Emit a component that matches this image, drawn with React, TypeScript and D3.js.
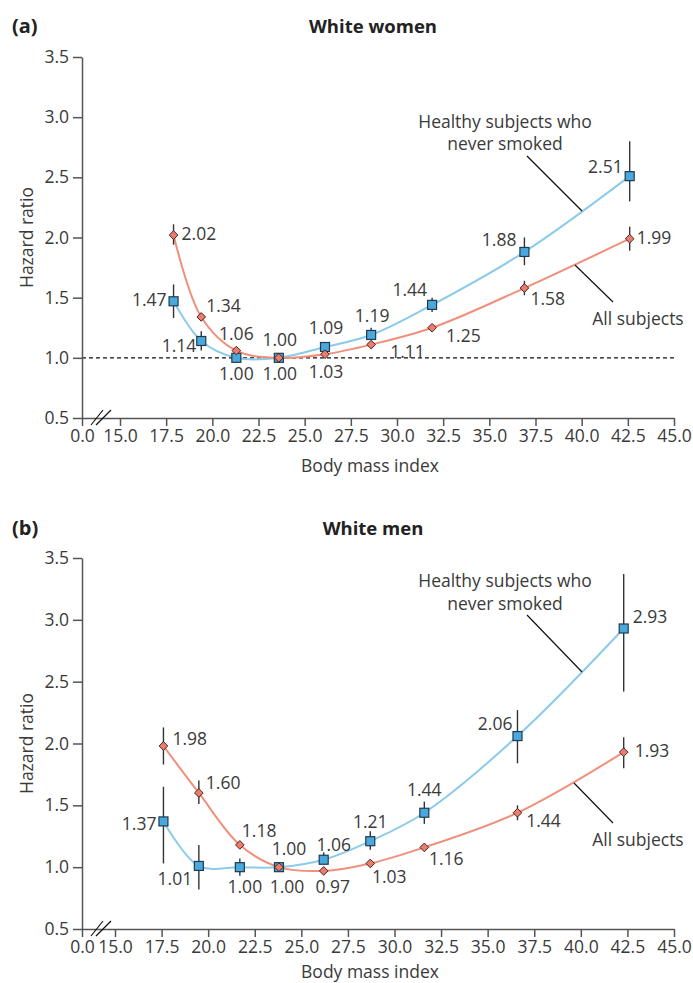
import { useEffect, useRef } from "react";
import * as d3 from "d3";

// ---- data ----
const xTicks = [0, 15, 17.5, 20, 22.5, 25, 27.5, 30, 32.5, 35, 37.5, 40, 42.5, 45];
const yTicks = [0.5, 1.0, 1.5, 2.0, 2.5, 3.0, 3.5];

const womenBmi = [17.9, 19.4, 21.3, 23.6, 26.1, 28.6, 31.9, 36.9, 42.6];
const womenAll = [2.02, 1.34, 1.06, 1.0, 1.03, 1.11, 1.25, 1.58, 1.99];
const womenAllLo = [1.94, 1.31, 1.04, 1.0, 1.01, 1.09, 1.23, 1.52, 1.89];
const womenAllHi = [2.11, 1.37, 1.08, 1.0, 1.05, 1.13, 1.27, 1.64, 2.09];
const womenHealthy = [1.47, 1.14, 1.0, 1.0, 1.09, 1.19, 1.44, 1.88, 2.51];
const womenHealthyLo = [1.33, 1.06, 0.97, 1.0, 1.06, 1.16, 1.38, 1.77, 2.3];
const womenHealthyHi = [1.61, 1.22, 1.03, 1.0, 1.12, 1.25, 1.5, 2.0, 2.8];

const menBmi = [17.6, 19.5, 21.7, 23.8, 26.2, 28.7, 31.6, 36.6, 42.3];
const menAll = [1.98, 1.6, 1.18, 1.0, 0.97, 1.03, 1.16, 1.44, 1.93];
const menAllLo = [1.83, 1.51, 1.16, 1.0, 0.95, 1.01, 1.14, 1.38, 1.8];
const menAllHi = [2.13, 1.7, 1.2, 1.0, 0.99, 1.05, 1.18, 1.5, 2.05];
const menHealthy = [1.37, 1.01, 1.0, 1.0, 1.06, 1.21, 1.44, 2.06, 2.93];
const menHealthyLo = [1.03, 0.82, 0.93, 1.0, 1.02, 1.14, 1.35, 1.84, 2.42];
const menHealthyHi = [1.65, 1.18, 1.07, 1.0, 1.12, 1.29, 1.53, 2.27, 3.37];

// label placement relative to each marker: [dx, dy, anchor]
type Off = [number, number, string];
const womenAllLabels: Off[] = [
  [8, -2, "start"], [5, -12, "start"], [0, -18, "middle"], [1, -19, "middle"], [1, 17, "middle"],
  [19, 6, "start"], [14, 7, "start"], [6, 10, "start"], [7, -2, "start"],
];
const womenHealthyLabels: Off[] = [
  [-7, -2, "end"], [-5, 4, "end"], [0, 15, "middle"], [1, 15, "middle"], [1, -20, "middle"],
  [1, -20, "middle"], [-5, -16, "end"], [-8, -13, "end"], [-7, -10, "end"],
];
const menAllLabels: Off[] = [
  [9, -8, "start"], [7, -11, "start"], [2, -15, "start"], [10, -19, "middle"], [9, 15, "middle"],
  [19, 13, "middle"], [22, 11, "middle"], [26, 7, "middle"], [11, -2, "start"],
];
const menHealthyLabels: Off[] = [
  [-7, 2, "end"], [-24, 12, "middle"], [5, 19, "middle"], [8, 19, "middle"], [10, -16, "middle"],
  [0, -20, "middle"], [0, -24, "middle"], [-5, -13, "end"], [9, -12, "start"],
];

const FONT = "'Open Sans', 'DejaVu Sans', sans-serif";
const TEXT = "#3a3a3a";
const BLUE_LINE = "#8ccbea";
const BLUE_FILL = "#4ba8db";
const RED_LINE = "#f0907c";
const RED_FILL = "#ea7d6c";
const FS = 17.5;

const fmt = d3.format(".2f");

const Panel = ({ top, letter, title, bmi, all, allLo, allHi, healthy, hLo, hHi, allLab, hLab, x15, yTop, yBottom, dashed, healthyY, allY, xTitleY }) => {
  const xAxisRef = useRef(null);
  const yAxisRef = useRef(null);

  const left = 82;
  const right = 674;
  const x = d3.scaleLinear().domain([0, 15, 45]).range([left, x15, right]);
  const y = d3.scaleLinear().domain([0.5, 3.5]).range([yBottom, yTop]);

  const line = d3
    .line<number>()
    .x((_, i) => x(bmi[i]))
    .y((d) => y(d))
    .curve(d3.curveCatmullRom.alpha(0.5));

  useEffect(() => {
    const xa = d3.select(xAxisRef.current)
      .call(d3.axisBottom(x).tickValues(xTicks).tickFormat(d3.format(".1f")).tickSize(8).tickSizeOuter(0).tickPadding(4));
    const ya = d3.select(yAxisRef.current)
      .call(d3.axisLeft(y).tickValues(yTicks).tickFormat(d3.format(".1f")).tickSize(9).tickSizeOuter(0).tickPadding(4));
    [xa, ya].forEach((a) => {
      a.selectAll("path, line").attr("stroke", "#555").attr("stroke-width", 1.5);
      a.selectAll("text").attr("font-size", FS).attr("font-family", FONT).attr("fill", TEXT);
    });
  }, []);

  const diamond = d3.symbol(d3.symbolDiamond2, 48)();

  return (
    <g>
      <text x={12} y={top + 25} fontFamily={FONT} fontWeight="bold" fontSize={20} fill="#222" dominantBaseline="central">
        {letter}
      </text>
      <text x={373} y={top + 25} fontFamily={FONT} fontWeight="bold" fontSize={18.5} fill="#222" textAnchor="middle" dominantBaseline="central">
        {title}
      </text>

      {dashed && (
        <line x1={left} x2={right} y1={y(1)} y2={y(1)} stroke="#111" strokeWidth={1.1} strokeDasharray="4,3" />
      )}

      <g ref={yAxisRef} transform={`translate(${left},0)`} />
      <g ref={xAxisRef} transform={`translate(0,${yBottom})`} />

      {/* axis break */}
      <line x1={91} y1={yBottom + 7} x2={103} y2={yBottom - 8} stroke="#111" strokeWidth={1.2} />
      <line x1={96} y1={yBottom + 7} x2={111} y2={yBottom - 8} stroke="#111" strokeWidth={1.2} />

      <text
        transform={`translate(26,${(yTop + yBottom) / 2}) rotate(-90)`}
        textAnchor="middle"
        dominantBaseline="central"
        fontFamily={FONT}
        fontSize={FS}
        fill={TEXT}
      >
        Hazard ratio
      </text>
      <text x={370} y={xTitleY} textAnchor="middle" dominantBaseline="central" fontFamily={FONT} fontSize={FS} fill={TEXT}>
        Body mass index
      </text>

      {/* curves */}
      <path d={line(healthy)} fill="none" stroke={BLUE_LINE} strokeWidth={2} />
      <path d={line(all)} fill="none" stroke={RED_LINE} strokeWidth={2} />

      {/* error bars */}
      {bmi.map((b, i) => (
        <g key={"e" + i} stroke="#333" strokeWidth={1.4}>
          {hHi[i] > hLo[i] && <line x1={x(b)} x2={x(b)} y1={y(hLo[i])} y2={y(hHi[i])} />}
          {allHi[i] > allLo[i] && <line x1={x(b)} x2={x(b)} y1={y(allLo[i])} y2={y(allHi[i])} />}
        </g>
      ))}

      {/* markers */}
      {bmi.map((b, i) => (
        <rect key={"s" + i} x={x(b) - 4.5} y={y(healthy[i]) - 4.5} width={9} height={9} fill={BLUE_FILL} stroke="#1e3b52" strokeWidth={1.2} />
      ))}
      {bmi.map((b, i) => (
        <path key={"d" + i} d={diamond} transform={`translate(${x(b)},${y(all[i])})`} fill={RED_FILL} stroke="#4a2520" strokeWidth={1} />
      ))}

      {/* value labels */}
      <g fontFamily={FONT} fontSize={FS} fill={TEXT} dominantBaseline="central">
        {bmi.map((b, i) => (
          <text key={"lh" + i} x={x(b) + hLab[i][0]} y={y(healthy[i]) + hLab[i][1]} textAnchor={hLab[i][2]}>
            {fmt(healthy[i])}
          </text>
        ))}
        {bmi.map((b, i) => (
          <text key={"la" + i} x={x(b) + allLab[i][0]} y={y(all[i]) + allLab[i][1]} textAnchor={allLab[i][2]}>
            {fmt(all[i])}
          </text>
        ))}
      </g>

      {/* series annotations */}
      <g fontFamily={FONT} fontSize={FS} fill={TEXT} textAnchor="middle" dominantBaseline="central">
        <text x={505} y={healthyY}>Healthy subjects who</text>
        <text x={505} y={healthyY + 22.7}>never smoked</text>
        <text x={638} y={allY}>All subjects</text>
      </g>
    </g>
  );
};

export default function App() {
  return (
    <svg width={693} height={983} style={{ position: "absolute", left: 0, top: 0, background: "#fff" }}>
      <Panel
        top={0}
        letter="(a)"
        title="White women"
        bmi={womenBmi}
        all={womenAll}
        allLo={womenAllLo}
        allHi={womenAllHi}
        healthy={womenHealthy}
        hLo={womenHealthyLo}
        hHi={womenHealthyHi}
        allLab={womenAllLabels}
        hLab={womenHealthyLabels}
        x15={120}
        yTop={57}
        yBottom={418}
        dashed
        healthyY={120.7}
        allY={318.3}
        xTitleY={465}
      />
      <Panel
        top={502}
        letter="(b)"
        title="White men"
        bmi={menBmi}
        all={menAll}
        allLo={menAllLo}
        allHi={menAllHi}
        healthy={menHealthy}
        hLo={menHealthyLo}
        hHi={menHealthyHi}
        allLab={menAllLabels}
        hLab={menHealthyLabels}
        x15={115}
        yTop={558}
        yBottom={929}
        dashed={false}
        healthyY={580}
        allY={839.3}
        xTitleY={971}
      />
      {/* leader lines */}
      <g stroke="#111" strokeWidth={1.2}>
        <line x1={527} y1={156} x2={582} y2={211} />
        <line x1={575} y1={265} x2={613} y2={302} />
        <line x1={527} y1={615} x2={582} y2={672} />
        <line x1={574} y1={783} x2={613} y2={823} />
      </g>
    </svg>
  );
}
